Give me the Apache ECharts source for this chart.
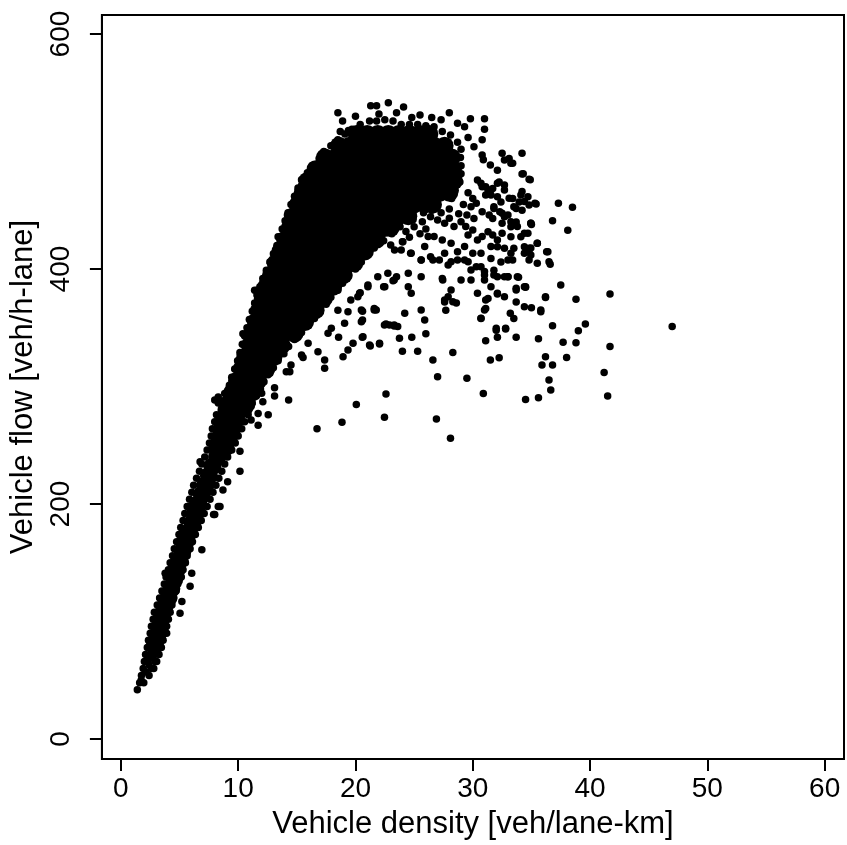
<!DOCTYPE html>
<html>
<head>
<meta charset="utf-8">
<script src="https://cdn.jsdelivr.net/npm/echarts@6/dist/echarts.min.js"></script>
<style>
html,body{margin:0;padding:0;background:#fff;}
#chart{width:847px;height:845px;}
</style>
</head>
<body>
<div id="chart"></div>
<script>
// Tick labels
const xTicks = [0, 10, 20, 30, 40, 50, 60];
const yTicks = [0, 200, 400, 600];

// Saturated core of the cloud, read as rows: [flow, [densities]]
const coreRows = [
  [285, [9.1, 10.0, 10.7]],
  [295, [9.5, 10.4, 11.2]],
  [305, [9.9, 10.8, 11.7]],
  [315, [10.3, 11.2, 12.1, 12.4]],
  [325, [10.6, 11.5, 12.4, 13.0]],
  [335, [11.0, 11.9, 12.8, 13.7]],
  [345, [11.2, 12.1, 13.0, 13.9, 14.8]],
  [355, [11.5, 12.4, 13.3, 14.2, 15.1, 15.7]],
  [365, [11.8, 12.7, 13.6, 14.5, 15.4, 16.3, 16.6]],
  [375, [12.1, 13.0, 13.9, 14.8, 15.7, 16.6, 17.3]],
  [385, [12.4, 13.3, 14.2, 15.1, 16.0, 16.9, 17.8, 18.1]],
  [395, [12.8, 13.7, 14.6, 15.5, 16.4, 17.3, 18.2, 19.0]],
  [405, [13.2, 14.1, 15.0, 15.9, 16.8, 17.7, 18.6, 19.5, 19.9]],
  [415, [13.6, 14.5, 15.4, 16.3, 17.2, 18.1, 19.0, 19.9, 20.8]],
  [425, [14.0, 14.9, 15.8, 16.7, 17.6, 18.5, 19.4, 20.3, 21.2, 21.8]],
  [435, [14.4, 15.3, 16.2, 17.1, 18.0, 18.9, 19.8, 20.7, 21.6, 22.5, 23.0]],
  [445, [14.7, 15.6, 16.5, 17.4, 18.3, 19.2, 20.1, 21.0, 21.9, 22.8, 23.7, 24.5]],
  [455, [15.1, 16.0, 16.9, 17.8, 18.7, 19.6, 20.5, 21.4, 22.3, 23.2, 24.1, 25.0, 25.9, 26.6]],
  [465, [15.5, 16.4, 17.3, 18.2, 19.1, 20.0, 20.9, 21.8, 22.7, 23.6, 24.5, 25.4, 26.3, 27.2, 28.0]],
  [475, [15.9, 16.8, 17.7, 18.6, 19.5, 20.4, 21.3, 22.2, 23.1, 24.0, 24.9, 25.8, 26.7, 27.6, 28.4]],
  [485, [16.6, 17.5, 18.4, 19.3, 20.2, 21.1, 22.0, 22.9, 23.8, 24.7, 25.6, 26.5, 27.4, 28.3]],
  [495, [17.4, 18.3, 19.2, 20.1, 21.0, 21.9, 22.8, 23.7, 24.6, 25.5, 26.4, 27.3, 28.2]],
  [505, [18.6, 19.5, 20.4, 21.3, 22.2, 23.1, 24.0, 24.9, 25.8, 26.7, 27.6]],
  [515, [20.1, 21.0, 21.9, 22.8, 23.7, 24.6, 25.5, 26.3]]
];

// Saturated core of the lower (free-flow) band: [density, flow]
const bandCore = [
  [2.9,80],[3.1,88],[3.35,96],[3.5,104],[3.7,112],[4.05,120],[4.3,128],[4.55,136],
  [4.75,144],[5.0,152],[5.25,160],[5.5,168],[5.8,176],[6.1,184],[6.35,192],[6.6,200],
  [6.9,208],[7.2,216],[7.5,224],[7.8,232],[8.2,240],[8.2,248],[8.9,248],[8.4,256],
  [9.2,256],[8.6,264],[9.5,264],[8.8,272],[9.8,272],[9.0,280],[10.2,280]
];

// Individual points along the border of the cloud: [density, flow]
const bandLeft = [
  [1.4,42],[1.6,48],[1.75,54],[1.9,60],[2.0,66],[2.1,72],[2.25,78],[2.35,84],[2.5,90],
  [2.6,96],[2.75,102],[2.85,108],[3.1,114],[3.3,120],[3.5,126],[3.7,132],[3.85,138],
  [4.05,144],[4.2,150],[4.4,156],[4.55,162],[4.75,168],[4.95,174],[5.1,180],[5.3,186],
  [5.45,192],[5.65,198],[5.85,204],[6.05,210],[6.2,216],[6.45,222],[6.7,228],[6.9,234],
  [7.15,240],[7.35,246],[7.55,252],[7.7,258],[7.8,264],[8.0,270],[8.15,276]
];
const bandRight = [
  [1.95,48],[2.4,54],[2.8,60],[3.05,66],[3.25,72],[3.45,78],[3.6,84],[3.75,90],[3.9,96],
  [4.05,102],[4.2,108],[4.35,114],[4.5,120],[4.7,126],[4.85,132],[5.15,138],[5.3,144],
  [5.5,150],[5.65,156],[5.9,162],[6.1,168],[6.35,174],[6.6,180],[6.85,186],[7.1,192],
  [7.35,198],[7.6,204],[7.85,210],[8.1,216],[8.35,222],[8.6,228],[8.85,234],[9.1,240],
  [9.45,246],[9.75,252],[10.0,258],[10.3,264],[10.55,270],[10.85,276]
];
const bandMid = [
  [2.15,57],[2.4,63],[2.6,60],[2.3,66],[2.55,69],[2.9,66],[2.45,72],[2.9,72],[2.7,75]
];
const blobLeft = [
  [8.55,287],[8.85,294],[9.25,301],[9.45,308],[9.7,315],[9.95,322],[10.15,329],[10.35,336],
  [10.55,343],[10.75,350],[10.95,357],[11.2,364],[11.4,371],[11.6,378],[11.85,385],[12.1,392],
  [12.4,399],[12.7,406],[13.0,413],[13.3,420],[13.55,427],[13.75,434],[14.0,441],[14.25,448],
  [14.5,455],[14.8,462],[15.1,469],[15.4,476],[15.9,482],[16.3,488],[16.9,494],[17.3,500],
  [17.9,505],[18.5,510],[19.1,515],[19.7,519],[20.4,523],[21.2,526]
];
const blobTop = [
  [21.8,526],[22.5,527],[23.2,526],[23.9,523],[24.6,523],[25.3,523],[26.0,522],[26.7,521],
  [27.4,517],[28.1,514],[28.7,508],[29.0,502]
];
const blobRight = [
  [28.95,495],[29.0,488],[29.0,481],[28.9,474],[28.5,467],[28.2,460],[27.0,454],[25.8,448],
  [24.9,442],[23.8,436],[23.1,430],[22.4,424],[21.6,418],[21.0,412],[20.5,406],[20.0,400],
  [19.4,394],[18.9,388],[18.5,382],[17.9,376],[17.5,370],[17.0,364],[16.5,358],[16.0,352],
  [15.4,346],[14.8,340],[14.3,334],[13.9,328],[13.4,322],[13.0,316],[12.55,310],[12.2,304],
  [11.9,298],[11.55,292],[11.2,286],[10.9,280]
];

// Scattered points outside the saturated cloud: [density, flow]
const scatterBand = [
  [1.73,50],[3.9,90],[5.04,107],[5.2,117],[5.9,130],[6.04,141],[6.9,161],[7.9,191],[8.0,191],
  [8.3,198],[8.45,198],[8.7,212],[9.1,219],[10.15,228],[10.15,245],[11.7,267],[12.56,276],
  [13.1,292],[13.1,299],[14.3,288.5],[3.77,141],[5.75,198],[6.75,236],[8.3,291],[8.3,286],
  [8.0,288.5],[10.4,345],[11.4,382],[13.4,427.5],[15.4,471],[14.2,446],[12.9,406],[11.6,382],[17.1,495]
];
const scatterTop = [
  [18.5,533],[18.9,526],[18.7,517],[19.4,518],[21.3,539],[21.8,539],[22.8,541.5],[24.1,538],
  [28.0,533],[29.8,528],[31.0,528],[31.0,519],[30.8,510],[30.8,497],[30.9,493],[20.0,530],
  [23.5,533],[25.5,531],[26.5,529],[27.3,527],[24.8,529],[22.0,532],[28.7,524],[29.3,521],
  [29.6,512],[30.1,504]
];
const scatterRight = [
  [32.5,498.5],[34.2,498.5],[33.1,494],[33.4,490],[31.5,488.5],[32.1,484],[34.3,481],[34.9,476],
  [30.7,473],[31.1,470],[31.7,468.6],[32.25,474],[32.7,471.5],[34.2,466],[34.7,461.5],[33.4,460],
  [33.95,457],[33.7,451.6],[34.2,450],[32.1,461.5],[32.4,457],[31.1,463],[31.5,467],[31.8,451.6],
  [31.7,443],[32.5,447.4],[33.0,446],[32.5,439],[33.25,436],[33.7,440],[32.5,430.4],[33.25,427.5],
  [34.1,427.5],[34.7,430.4],[34.95,439],[35.3,456],[37.3,456],[38.5,452.5],[36.8,441],[38.1,433],
  [35.0,438],[35.5,422],[34.95,418],[34.95,412],[34.8,407.7],[36.3,414.7],[36.6,404],[34.4,419],
  [33.5,417.6],[32.7,417.6],[32.1,419],[33.0,407.7],[32.4,406],[31.55,409],[33.0,393.4],[33.9,393],
  [34.5,385],[33.7,383.6],[33.7,372],[32.1,378.7],[31.3,375],[31.1,366.5],[30.7,358],[31.8,395],
  [31.0,395],[37.5,386.4],[36.2,375.8],[38.8,374.2],[41.7,378.7],[47.0,351],[35.0,367],[35.8,363.7],
  [33.2,362.3],[33.5,358],[36.8,351.7],[39.6,353.2],[39.0,347.5],[38.8,337.3],[37.7,337.6],[35.6,340.7],
  [33.7,342],[32.8,349],[32.0,348],[32.1,342],[31.1,339],[41.7,334],[38.0,324.8],[36.2,325.4],
  [35.9,318.3],[36.8,318.3],[36.5,305.5],[36.65,297],[41.2,312],[41.5,292],[35.6,290.5],[34.5,289],
  [32.25,324.5],[31.5,322.6],[30.9,294],[29.5,307],[28.3,329],[27.0,308.4],[26.6,322.6],[26.9,272.3],
  [28.1,256],[27.6,372],[27.7,365],[28.6,371],[27.4,392],[34.5,384.4],[36.5,406.3],[35.5,404.9],
  [34.8,416.2],[34.4,368],[35.8,365.2],[36.2,376.5],[32.0,349.6],[32.8,349.6]
];
const scatterShoulder = [
  [25.7,440.3],[26.4,444.6],[27.0,441.7],[27.6,438.9],[28.0,443.2],[28.4,436.1],[29.0,440.3],
  [29.4,436.1],[29.6,429],[30.0,433.3],[30.4,424.7],[30.8,427.6],[31.3,431.8],[31.7,429],[32.1,424.7],
  [33.25,413.4],[33.4,407.7],[34.4,413.4],[34.8,417.6],[35.5,421.9],[36.4,414.8],[31.55,419.1],
  [30.7,413.4],[30.0,413.4],[29.3,419.1],[28.7,414.8],[28.15,421.9],[27.4,424.7],[26.7,427.6],
  [26.2,427.6],[25.9,419.1],[26.4,410.5],[27.15,407.7],[27.9,403.4],[28.7,407.7],[29.6,406.3],
  [30.3,402],[31.0,397.8],[31.8,399],[32.7,393.5],[25.6,407.7],[24.7,413.4],[23.9,416.2],[23.0,420.5],
  [24.0,423.3],[30.4,475.8],[30.8,470.1],[31.3,467.3],[31.55,463],[32.1,473],[32.7,467.3],[33.1,460.2],
  [33.5,453.1],[34.1,463],[34.4,457.4],[34.8,454.5],[35.4,455.4],[32.7,492.8],[33.25,490],[34.2,480.9],
  [34.8,476.4],[31.8,453.1],[32.3,448.8],[32.7,444.6],[33.25,440.3],[33.8,436.1],[34.4,430.4],
  [34.95,438.9],[30.8,448.8],[31.4,446],[30.3,455.9],[29.85,453.1],[26.5,450],[27.3,448],[28.0,451],
  [28.8,447],[29.5,446],[30.1,443],[29.2,455],[30.0,460],[29.6,465],[24.3,432],[25.0,436],[24.6,427],
  [25.5,430],[26.0,434]
];
const scatterLower = [
  [24.04,423.3],[23.33,416.2],[24.75,413.4],[25.6,407.7],[26.6,407.7],[27.6,413.4],[28.15,406.3],
  [29.3,407.7],[29.85,399.2],[30.7,402],[31.0,390.7],[30.4,379.3],[31.55,385],[32.1,393.5],[33.0,393.5],
  [33.8,393.5],[34.4,385],[33.7,382.2],[32.7,376.5],[32.1,379.3],[31.1,373.7],[31.0,365.2],[30.7,358.1],
  [29.85,390.7],[29.0,390.7],[28.15,382.2],[27.9,376.5],[28.3,372.2],[27.44,390.7],[25.6,393.5],
  [24.5,396.4],[23.5,393.5],[22.76,396.4],[22.5,385],[24.5,385],[24.75,379.3],[21.6,365.2],[20.5,365.2],
  [20.2,376.5],[21.06,385],[21.9,393.5],[25.6,365.2],[25.9,356.7],[22.9,352.4],[23.6,351],[24.2,362.3],
  [27.6,373.7],[17.37,315.5],[14.4,312.6],[14.1,312.6],[12.7,311.2],[15.4,326.8],[14.5,318.3],
  [16.8,329.6],[15.96,336.8],[17.37,322.6],[17.66,345.3],[17.94,349.5],[18.94,325.4],[19.36,331],
  [19.79,336.8],[20.64,342.4],[21.2,335.3],[22.05,336.8],[22.47,352.3],[23.3,352.3],[19.07,353.8],
  [20.6,356.6],[21.6,366.5],[22.4,385],[23.3,390.6],[20.6,364],[18.5,365],[19.36,363.7],[19.6,373.6],
  [20.35,379.3],[21.06,386.4],[12.0,294.2],[12.1,287],[11.7,277],[11.1,271.5],[15.53,324.8],
  [18.56,341.9],[20.5,355.1],[20.4,379.8],[22.6,293.6],[20.07,284.8],[18.85,269.5],[22.47,273.8],
  [16.72,264.1],[21.77,365.1],[21.26,334.5],[22.05,336.2],[20.58,341.9],[22.6,353.2],[23.3,351.5],
  [23.75,341],[23.2,390],[24.8,342],[25.3,330],[24.0,330],[26.0,345]
];

const corePoints = coreRows.flatMap(([flow, ds]) => ds.map(d => [d, flow])).concat(bandCore);
const dotPoints = [].concat(bandLeft, bandRight, bandMid, blobLeft, blobTop, blobRight,
  scatterBand, scatterTop, scatterRight, scatterShoulder, scatterLower);

const FONT = "'Liberation Sans', Arial, Helvetica, sans-serif";
const chart = echarts.init(document.getElementById('chart'), null, {renderer: 'canvas'});
chart.setOption({
  animation: false,
  backgroundColor: '#fff',
  grid: {left: 100, right: 3, top: 15, bottom: 86, show: true, borderColor: '#000', borderWidth: 2},
  xAxis: {
    type: 'value', min: -1.62, max: 61.65,
    name: 'Vehicle density [veh/lane-km]', nameLocation: 'middle', nameGap: 50,
    nameTextStyle: {fontFamily: FONT, fontSize: 31, color: '#000'},
    axisLine: {show: true, onZero: false, lineStyle: {color: '#000', width: 2}},
    axisTick: {show: true, length: 12, lineStyle: {color: '#000', width: 2}, customValues: xTicks},
    axisLabel: {customValues: xTicks, fontFamily: FONT, fontSize: 28, color: '#000', margin: 16},
    splitLine: {show: false}
  },
  yAxis: {
    type: 'value', min: -17, max: 616.2,
    name: 'Vehicle flow [veh/h-lane]', nameLocation: 'middle', nameGap: 61,
    nameTextStyle: {fontFamily: FONT, fontSize: 31, color: '#000'},
    axisLine: {show: true, onZero: false, lineStyle: {color: '#000', width: 2}},
    axisTick: {show: true, length: 12, lineStyle: {color: '#000', width: 2}, customValues: yTicks},
    axisLabel: {customValues: yTicks, rotate: 90, fontFamily: FONT, fontSize: 28, color: '#000', margin: 27},
    splitLine: {show: false}
  },
  series: [
    {type: 'scatter', name: 'core', data: corePoints, symbol: 'circle', symbolSize: 18,
     itemStyle: {color: '#000', opacity: 1, borderWidth: 0}, silent: true},
    {type: 'scatter', name: 'points', data: dotPoints, symbol: 'circle', symbolSize: 7.5,
     itemStyle: {color: '#000', opacity: 1, borderWidth: 0}, silent: true}
  ]
});
</script>
</body>
</html>
